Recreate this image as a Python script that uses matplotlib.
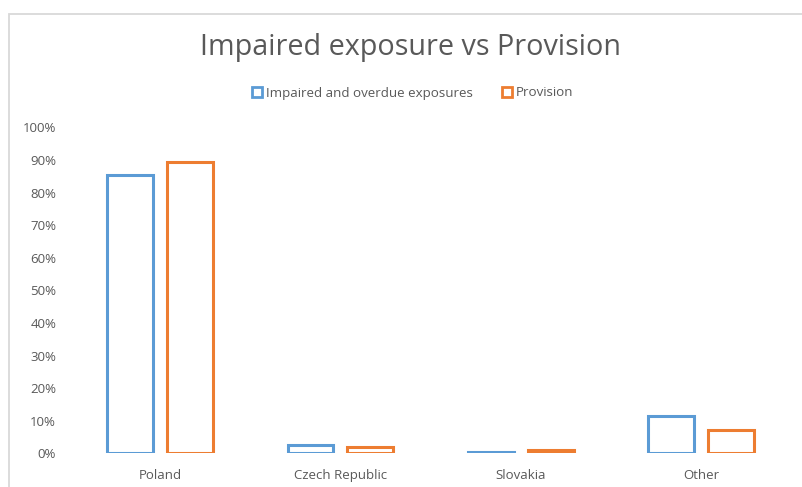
import matplotlib.pyplot as plt
from matplotlib.patches import Patch, Rectangle
import numpy as np

plt.rcParams['font.family'] = ['Open Sans', 'DejaVu Sans']

regions = ['Poland', 'Czech Republic', 'Slovakia', 'Other']
impaired = [0.853, 0.026, 0.006, 0.114]
provision = [0.894, 0.021, 0.010, 0.072]

blue = '#5B9BD5'
orange = '#ED7D31'
grey = '#595959'

fig = plt.figure(figsize=(8.03, 4.87), dpi=100)
ax = fig.add_axes([0.0872, 0.0688, 0.898, 0.6694])

# outer chart border (cut off at right and bottom in the original)
fig.patches.append(Rectangle((8.5 / 803, -0.1), 1.2, 1.1 - 14 / 487,
                             transform=fig.transFigure, fill=False,
                             edgecolor='#D9D9D9', lw=1.3))

x = np.arange(len(regions))
w = 0.255
off = 0.166
ax.bar(x - off, impaired, w, facecolor='white', edgecolor=blue, linewidth=2.2)
ax.bar(x + off, provision, w, facecolor='white', edgecolor=orange, linewidth=2.2)

ax.set_xlim(-0.5, len(regions) - 0.5)
ax.set_ylim(0, 1)
ax.set_yticks(np.arange(0, 1.01, 0.1))
ax.set_yticklabels(['%d%%' % round(v * 100) for v in np.arange(0, 1.01, 0.1)])
ax.set_xticks(x)
ax.set_xticklabels(regions)
ax.tick_params(length=0, colors=grey, labelsize=9.5)
ax.tick_params(axis='y', pad=10)
ax.tick_params(axis='x', pad=11)
for s in ax.spines.values():
    s.set_visible(False)

fig.text(0.511, 1 - 48 / 487, 'Impaired exposure vs Provision', ha='center', va='center',
         fontsize=20.7, color=grey)

handles = [Patch(facecolor='white', edgecolor=blue, lw=2, label='Impaired and overdue exposures'),
           Patch(facecolor='white', edgecolor=orange, lw=2, label='Provision')]
fig.legend(handles=handles, loc='center', bbox_to_anchor=(0.514, 1 - 93 / 487), ncol=2,
           frameon=False, fontsize=9.6, labelcolor=grey, handlelength=0.75, handleheight=0.75,
           handletextpad=0.3, columnspacing=2.2)

fig.savefig('out.png', dpi=100)
